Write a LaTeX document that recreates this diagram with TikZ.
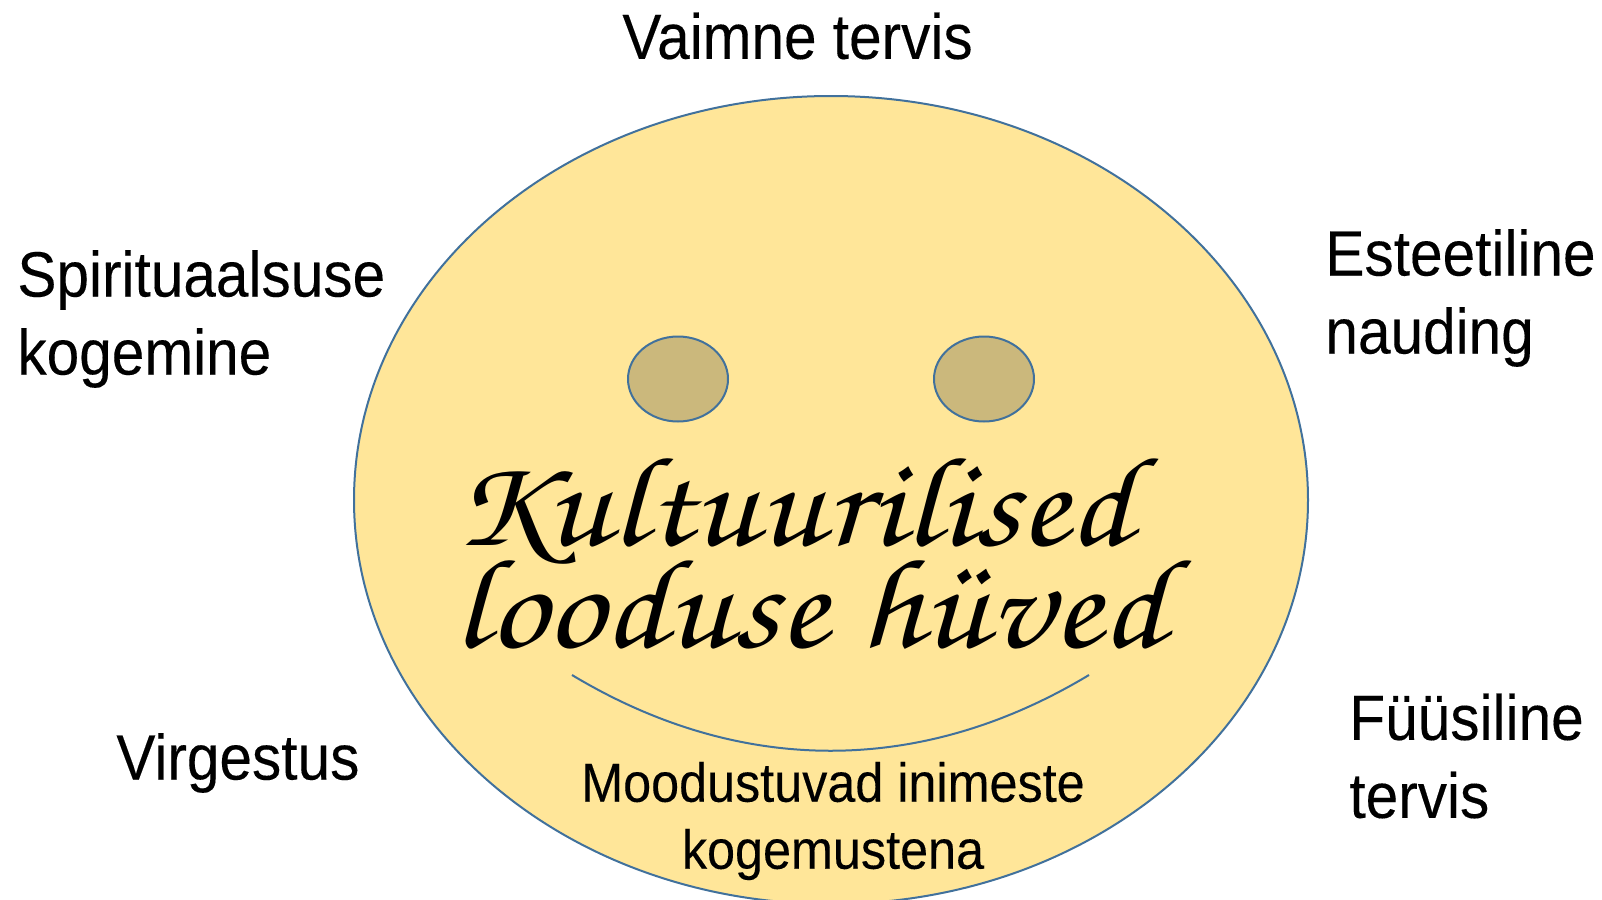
\documentclass[tikz,border=0pt]{standalone}
\usepackage{fontspec}
\usepackage[T1,TU]{fontenc}
\setmainfont{Liberation Sans}
\newfontfamily\labelfont[FakeStretch=0.915,FakeBold=0.2]{Liberation Sans}
\usetikzlibrary{positioning}
\usetikzlibrary{shapes.geometric}
\definecolor{facefill}{HTML}{FFE699}
\definecolor{eyefill}{HTML}{CBB87C}
\definecolor{faceline}{HTML}{41719C}
\tikzset{
    outcome/.style={font=\labelfont\fontsize{32}{39}\selectfont, align=left, text=black, inner sep=0pt},
    eyeball/.style={ellipse, draw=faceline, fill=eyefill, line width=1pt, minimum width=50pt, minimum height=42.5pt, inner sep=0pt},
}
\begin{document}
\begin{tikzpicture}[x=0.5pt, y=-0.5pt]
    \useasboundingbox (0,0) rectangle (1602,900);
    \clip (0,0) rectangle (1602,900);

    \node[ellipse, draw=faceline, fill=facefill, line width=1pt, minimum width=477pt, minimum height=404pt, inner sep=0pt] (face) at (831,500) {};
    \node[eyeball] (lefteye) at (678,379) {};
    \node[eyeball] (righteye) at (984,379) {};

    % suu
    \coordinate (mouthl) at (572,675);
    \coordinate (mouthr) at (1089,675);
    \draw[faceline, line width=1pt] (mouthl) .. controls (740,776) and (921,776) .. (mouthr);

    \node[font=\fontencoding{T1}\fontfamily{pzc}\fontseries{mb}\fontshape{it}\fontsize{64}{52}\selectfont, align=left, inner sep=0pt, anchor=west, xscale=1.125, transform shape] (title) at (453,552) {Kultuurilised\\[-5.5pt]looduse h\"uved};
    \node[outcome, align=center, font=\labelfont\fontsize{27.5}{33.5}\selectfont] (formed) at (833,821) {Moodustuvad inimeste\\kogemustena};

    \node[outcome, anchor=west] (mental) at (622,36) {Vaimne tervis};
    \node[outcome, anchor=west] (spirit) at (17,319) {Spirituaalsuse\\kogemine};
    \node[outcome, anchor=west] (aesthetic) at (1325,298) {Esteetiline\\nauding};
    \node[outcome, anchor=west] (leisure) at (116,763) {Virgestus};
    \node[outcome, anchor=west] (physical) at (1349,756) {Füüsiline\\tervis};
\end{tikzpicture}
\end{document}
